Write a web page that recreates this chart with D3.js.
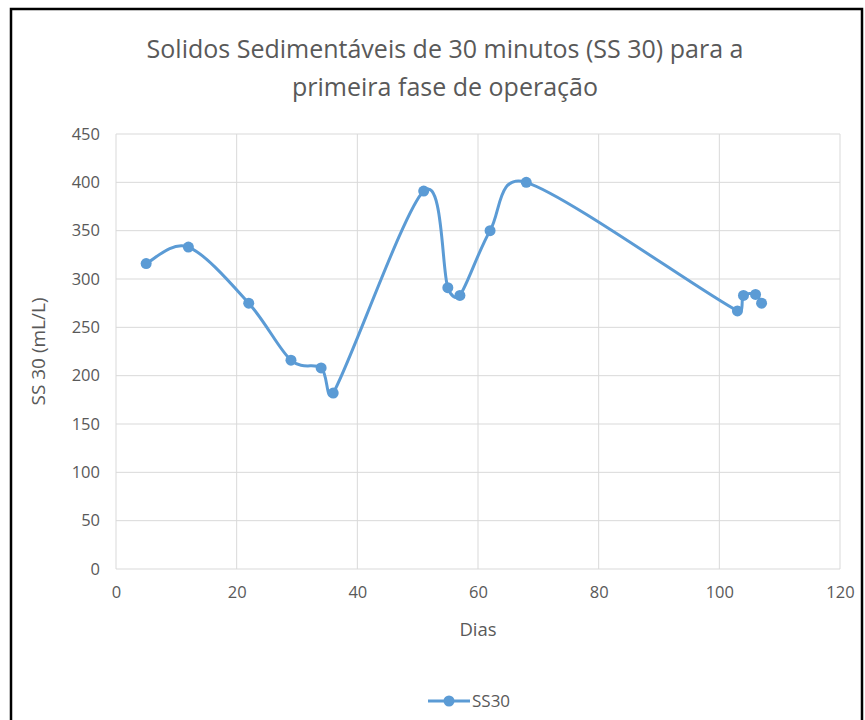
<!DOCTYPE html>
<html>
<head>
<meta charset="utf-8">
<script src="https://cdn.jsdelivr.net/npm/d3@7"></script>
<style>
  html, body { margin: 0; padding: 0; background: #fff; }
  text { font-family: "Open Sans", "DejaVu Sans", sans-serif; }
</style>
</head>
<body>
<div id="container"></div>
<script>
const width = 865, height = 720;

const dias = [5, 12, 22, 29, 34, 36, 51, 55, 57, 62, 68, 103, 104, 106, 107];
const ss30 = [316, 333, 275, 216, 208, 182, 391, 291, 283, 350, 400, 267, 283, 284, 275];
const xTicks = [0, 20, 40, 60, 80, 100, 120];
const yTicks = [0, 50, 100, 150, 200, 250, 300, 350, 400, 450];
const titleLines = ["Solidos Sedimentáveis de 30 minutos (SS 30) para a", "primeira fase de operação"];

const blue = "#5B9BD5";
const gridCol = "#D9D9D9";
const textCol = "#595959";

const plot = { left: 116, right: 840, top: 134, bottom: 569 };

const svg = d3.select("#container").append("svg")
  .attr("width", width)
  .attr("height", height);

svg.append("rect").attr("width", width).attr("height", height).attr("fill", "#fff");

// outer frame (black, cut off at the bottom)
svg.append("path")
  .attr("d", `M11,${height + 5} V9 H862 V${height + 5}`)
  .attr("fill", "none")
  .attr("stroke", "#000")
  .attr("stroke-width", 2.5);

const x = d3.scaleLinear().domain([0, 120]).range([plot.left, plot.right]);
const y = d3.scaleLinear().domain([0, 450]).range([plot.bottom, plot.top]);

// grid
const grid = svg.append("g");
xTicks.forEach(v => {
  grid.append("line")
    .attr("x1", x(v)).attr("x2", x(v))
    .attr("y1", y(450)).attr("y2", y(0))
    .attr("stroke", gridCol).attr("stroke-width", 1);
});
yTicks.forEach(v => {
  grid.append("line")
    .attr("x1", x(0)).attr("x2", x(120))
    .attr("y1", y(v)).attr("y2", y(v))
    .attr("stroke", gridCol).attr("stroke-width", 1);
});

// axes (labels only, lines come from the grid)
const xAxis = svg.append("g")
  .attr("transform", `translate(0,${plot.bottom})`)
  .call(d3.axisBottom(x).tickValues(xTicks).tickSize(0).tickPadding(17));
xAxis.select(".domain").remove();
xAxis.selectAll("text").attr("fill", textCol).style("font-size", "16.5px")
  .style("font-family", "'Open Sans', sans-serif");

const yAxis = svg.append("g")
  .attr("transform", `translate(${plot.left},0)`)
  .call(d3.axisLeft(y).tickValues(yTicks).tickSize(0).tickPadding(16));
yAxis.select(".domain").remove();
yAxis.selectAll("text").attr("fill", textCol).style("font-size", "16.5px")
  .style("font-family", "'Open Sans', sans-serif");

// Excel-style smoothed line: cardinal bezier (1/6), handles capped at half the segment
function smoothPath(p) {
  const path = d3.path();
  const dist = (a, b) => Math.hypot(a[0] - b[0], a[1] - b[1]);
  path.moveTo(p[0][0], p[0][1]);
  for (let i = 0; i < p.length - 1; i++) {
    const p0 = p[Math.max(i - 1, 0)], p1 = p[i], p2 = p[i + 1], p3 = p[Math.min(i + 2, p.length - 1)];
    const d12 = dist(p1, p2), d02 = dist(p0, p2), d13 = dist(p1, p3);
    let f1 = 1 / 6, f2 = 1 / 6;
    if (d02 / 6 > d12 / 2) f1 = d12 / 2 / d02;
    if (d13 / 6 > d12 / 2) f2 = d12 / 2 / d13;
    path.bezierCurveTo(
      p1[0] + f1 * (p2[0] - p0[0]), p1[1] + f1 * (p2[1] - p0[1]),
      p2[0] - f2 * (p3[0] - p1[0]), p2[1] - f2 * (p3[1] - p1[1]),
      p2[0], p2[1]);
  }
  return path.toString();
}

// series: smoothed line + markers
const pts = dias.map((d, i) => [d, ss30[i]]);
svg.append("path")
  .attr("d", smoothPath(pts.map(d => [x(d[0]), y(d[1])])))
  .attr("fill", "none")
  .attr("stroke", blue)
  .attr("stroke-width", 3)
  .attr("stroke-linejoin", "round");

svg.selectAll(".dot")
  .data(pts)
  .join("circle")
  .attr("cx", d => x(d[0]))
  .attr("cy", d => y(d[1]))
  .attr("r", 5.5)
  .attr("fill", blue);

// title
svg.append("text")
  .attr("x", 445).attr("y", 58)
  .attr("text-anchor", "middle")
  .attr("fill", textCol)
  .style("font-size", "25px")
  .selectAll("tspan")
  .data(titleLines)
  .join("tspan")
  .attr("x", 445)
  .attr("dy", (d, i) => i === 0 ? 0 : 38)
  .text(d => d);

// axis titles
svg.append("text")
  .attr("x", x(60)).attr("y", 636)
  .attr("text-anchor", "middle")
  .attr("fill", textCol)
  .style("font-size", "18.5px")
  .text("Dias");

svg.append("text")
  .attr("transform", `translate(45,${y(225)}) rotate(-90)`)
  .attr("text-anchor", "middle")
  .attr("fill", textCol)
  .style("font-size", "19px")
  .text("SS 30 (mL/L)");

// legend
const lg = svg.append("g").attr("transform", "translate(428,701)");
lg.append("line").attr("x1", 0).attr("x2", 42).attr("y1", 0).attr("y2", 0)
  .attr("stroke", blue).attr("stroke-width", 3);
lg.append("circle").attr("cx", 21).attr("cy", 0).attr("r", 5.5).attr("fill", blue);
lg.append("text").attr("x", 44).attr("y", 6)
  .attr("fill", textCol).style("font-size", "17px").text("SS30");
</script>
</body>
</html>
